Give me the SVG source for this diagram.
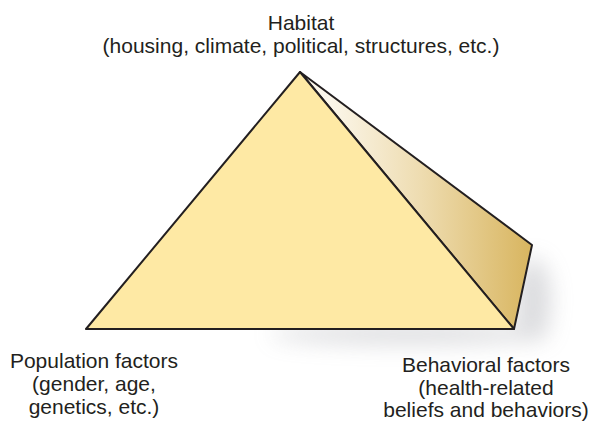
<svg xmlns="http://www.w3.org/2000/svg" width="592" height="421" viewBox="0 0 592 421">
<style>
.lbl{font-family:"Liberation Sans",Arial,Helvetica,sans-serif;font-size:21px;fill:#231f20;text-anchor:middle}
.edge{stroke:#231f20;stroke-width:2;stroke-linejoin:round}
</style>
<defs>
<linearGradient id="side" gradientUnits="userSpaceOnUse" x1="330" y1="0" x2="532" y2="0">
<stop offset="0" stop-color="#fbf6ea"/>
<stop offset="0.45" stop-color="#eedcb0"/>
<stop offset="1" stop-color="#d8b55f"/>
</linearGradient>
<filter id="blur" x="-50%" y="-50%" width="200%" height="200%">
<feGaussianBlur stdDeviation="11"/>
</filter>
</defs>
<rect width="592" height="421" fill="#ffffff"/>
<g id="shadow" filter="url(#blur)" fill="#9a9ba3" opacity="0.35">
<ellipse cx="410" cy="334" rx="140" ry="10"/>
<ellipse cx="533" cy="300" rx="18" ry="42"/>
</g>
<g id="pyramid">
<polygon id="side-face" class="edge" points="300,72 532,245 514,329" fill="url(#side)"/>
<polygon id="front-face" class="edge" points="300,72 86,329 514,329" fill="#fee9a4"/>
</g>
<g id="habitat">
<text class="lbl" x="301" y="30">Habitat</text>
<text class="lbl" x="301" y="53">(housing, climate, political, structures, etc.)</text>
</g>
<g id="population">
<text class="lbl" x="94" y="368">Population factors</text>
<text class="lbl" x="94" y="391">(gender, age,</text>
<text class="lbl" x="94" y="414">genetics, etc.)</text>
</g>
<g id="behavioral">
<text class="lbl" x="486" y="372">Behavioral factors</text>
<text class="lbl" x="486" y="395">(health-related</text>
<text class="lbl" x="486" y="417">beliefs and behaviors)</text>
</g>
<g id="connectors"/>
</svg>
